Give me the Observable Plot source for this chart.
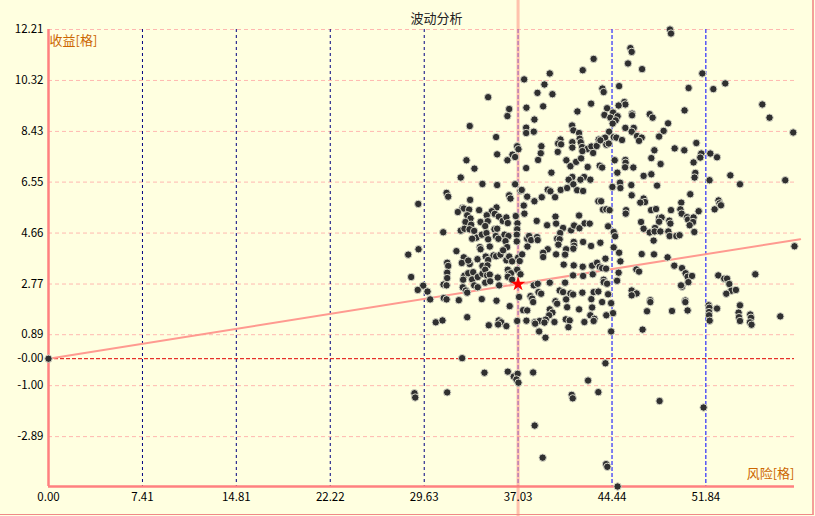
<!DOCTYPE html>
<html><head><meta charset="utf-8">
<script src="https://cdn.jsdelivr.net/npm/d3@7"></script>
<script src="https://cdn.jsdelivr.net/npm/@observablehq/plot@0.6"></script>
<style>
html,body{margin:0;padding:0;background:#ffffe0;}
#wrap{position:relative;width:815px;height:516px;overflow:hidden;}
#border{position:absolute;left:0;top:0;width:812px;height:514px;border-right:2px solid #f4a09a;border-bottom:1px solid #f08888;pointer-events:none;}
</style></head><body><div id="wrap"><div id="border"></div></div>
<script>
const title = "波动分析";
const yLabelText = "收益[格]";
const xLabelText = "风险[格]";
const xTicks = [0, 7.41, 14.81, 22.22, 29.63, 37.03, 44.44, 51.84];
const xTickLabels = ["0.00","7.41","14.81","22.22","29.63","37.03","44.44","51.84"];
const yTicks = [12.21, 10.32, 8.43, 6.55, 4.66, 2.77, 0.89, 0, -1.00, -2.89];
const yTickLabels = ["12.21","10.32","8.43","6.55","4.66","2.77","0.89","-0.00","-1.00","-2.89"];
const xDomain = [0, 58.83];
const yDomain = [-4.74, 12.21];
const benchmark = {risk: 37.03, ret: 2.77};
// [risk, return]
const samples = [
[0,0],
[42.99,11.12],[42.13,10.70],[39.53,10.58],[37.51,10.36],[39.11,10.17],[38.56,9.86],[39.74,9.81],[43.68,10.02],[43.78,9.89],[34.67,9.70],
[42.79,9.46],[37.69,9.31],[39.01,9.36],[36.33,9.26],[36.19,9.00],[38.32,8.87],[41.71,9.17],[33.22,8.63],[37.67,8.57],[37.67,8.37],
[38.27,8.42],[41.29,8.65],[41.39,8.47],[41.84,8.37],[35.30,8.22],[40.37,8.13],[40.19,7.98],[40.42,7.95],[41.31,8.03],[41.89,8.16],
[41.97,8.03],[43.39,8.13],[43.84,8.16],[42.08,7.85],[42.50,7.78],[42.81,7.87],[43.23,7.89],[41.31,7.83],[36.96,7.88],[37.06,7.77],
[38.87,7.88],[38.82,7.62],[35.38,7.58],[36.59,7.57],[36.80,7.48],[40.16,7.67],[42.10,7.70],[42.95,7.63],[32.96,7.36],[33.59,7.05],
[36.19,7.36],[37.67,7.07],[38.61,7.37],[40.84,7.36],[41.16,7.14],[41.61,7.30],[42.00,7.43],[42.52,7.11],[43.47,7.16],[43.66,7.09],
[39.66,6.90],[32.51,6.72],[41.31,6.74],[41.02,6.64],[42.24,6.74],[41.95,6.64],[42.73,6.64],
[49.01,12.21],[49.09,12.06],[45.89,11.52],[45.99,11.38],[45.70,10.95],[46.81,10.74],[51.56,10.58],[53.37,10.21],[50.48,10.04],[52.43,10.00],
[45.00,10.11],[56.29,9.43],[56.86,8.94],[58.73,8.39],[50.16,9.21],[45.41,9.52],[45.49,9.43],[44.96,9.39],[44.05,9.29],[44.52,9.13],
[43.84,9.04],[44.31,8.94],[44.88,8.99],[44.73,8.84],[44.49,8.72],[46.02,9.09],[46.02,9.03],[47.41,9.07],[47.64,8.94],[48.86,8.73],
[45.49,8.56],[46.15,8.56],[45.99,8.42],[48.51,8.45],[48.15,8.24],[44.21,8.42],[43.89,8.20],[43.52,8.10],[44.57,8.22],[44.78,8.20],
[46.41,8.26],[46.78,8.20],[46.57,8.08],[45.23,8.11],[43.99,7.94],[44.18,7.98],[51.09,8.00],[49.38,7.80],[50.14,7.73],[47.78,7.73],
[52.19,7.61],[52.72,7.47],[51.48,7.61],[51.40,7.46],[50.87,7.28],[47.54,7.44],[48.27,7.22],[44.65,7.36],[45.49,7.37],[45.51,7.27],
[45.47,7.10],[46.12,7.09],[44.86,6.90],[51.01,6.89],[50.95,6.72],[53.77,6.80],[47.54,6.84],[46.93,6.78],[58.10,6.62],[52.13,6.62],
[34.22,6.48],[35.38,6.44],[36.80,6.47],[37.22,6.23],[37.32,6.26],[37.75,6.01],[38.32,5.84],[38.90,5.99],[39.37,6.27],[39.58,6.21],
[39.95,5.99],[40.39,6.26],[40.90,6.33],[41.39,6.47],[41.69,6.25],[42.16,6.22],[43.36,5.84],[43.58,5.84],[31.39,6.15],[31.52,6.01],
[33.25,5.89],[29.16,5.74],[36.33,6.06],[36.43,5.94],[35.33,5.61],[34.96,5.47],[35.19,5.37],[35.51,5.27],[32.65,5.59],[32.75,5.57],
[33.17,5.53],[32.28,5.44],[33.96,5.51],[33.02,5.32],[33.28,5.20],[32.88,5.07],[33.33,4.97],[35.82,5.11],[36.11,5.24],[36.22,5.03],
[34.56,5.32],[34.07,5.07],[34.64,5.10],[34.44,4.92],[36.85,5.29],[36.98,5.02],[37.48,5.68],[37.53,5.38],[38.50,5.11],[39.32,4.95],
[39.98,5.27],[40.03,5.01],[40.58,4.85],[40.35,4.66],[41.21,4.76],[41.45,4.94],[41.84,5.31],[41.87,4.84],[42.28,5.02],[42.68,5.01],
[43.73,5.53],[31.13,4.69],[32.51,4.75],[32.80,4.82],[33.20,4.80],[33.57,4.74],[33.75,4.49],[33.41,4.45],[34.17,4.60],[34.54,4.66],
[34.67,4.43],[35.17,4.80],[35.38,4.82],[35.27,4.55],[35.48,4.45],[35.96,4.60],[36.27,4.55],[36.04,4.36],[36.17,4.14],[36.96,4.80],
[36.93,4.60],[36.93,4.35],[37.75,4.45],[37.90,4.55],[38.06,4.40],[37.77,4.16],[38.53,4.51],[38.58,4.40],[39.37,4.06],[40.11,4.45],
[40.31,4.43],[40.21,4.23],[40.82,4.06],[41.42,4.33],[41.45,4.19],[41.39,4.08],[42.16,4.33],[42.79,4.18],[28.37,3.86],[29.18,4.06],
[32.17,3.99],[34.01,4.14],[34.07,4.06],[34.80,4.16],[35.09,3.83],[35.30,3.80],[32.75,3.76],[32.59,3.55],[33.22,3.51],[33.10,3.64],
[33.83,3.69],[34.48,3.79],[34.67,3.66],[34.22,3.44],[34.62,3.46],[35.64,3.86],[35.85,4.02],[36.11,3.65],[36.33,3.79],[36.56,3.61],
[37.04,3.75],[37.16,3.62],[37.35,3.87],[39.01,3.93],[39.01,3.77],[40.03,3.87],[40.74,3.86],[40.63,3.49],[41.42,3.46],[42.13,3.41],
[42.87,3.45],[43.26,3.56],[43.47,3.41],[43.66,3.36],[31.44,3.56],[31.52,3.44],[28.60,3.03],[29.55,2.71],[29.12,2.55],[29.89,2.49],
[31.44,3.19],[31.44,2.99],[31.15,2.75],[31.39,2.72],[32.80,3.08],[33.10,3.17],[33.49,3.21],[32.70,2.93],[33.41,2.94],[33.85,3.03],
[34.22,3.15],[34.44,3.30],[34.59,3.09],[34.80,3.12],[33.57,2.72],[33.85,2.65],[34.44,2.82],[34.83,2.87],[35.43,3.01],[32.67,2.65],
[32.91,2.53],[36.22,3.30],[36.30,3.14],[36.48,3.17],[36.96,3.30],[37.22,3.13],[36.22,3.04],[35.54,2.72],[36.56,2.93],[38.27,2.72],
[38.58,2.78],[39.53,2.82],[40.74,2.82],[41.37,3.09],[42.16,3.07],[42.92,3.13],[43.78,2.93],[43.78,2.84],[30.10,2.20],[31.17,2.25],
[31.39,2.20],[32.36,2.17],[33.02,2.45],[34.17,2.21],[35.33,2.15],[36.37,1.95],[38.01,2.32],[38.14,2.23],[38.22,2.10],[38.64,2.47],
[37.11,2.29],[38.85,2.41],[40.31,2.53],[40.58,2.47],[41.16,2.42],[41.37,2.38],[42.10,2.45],[39.98,2.13],[40.11,2.04],[40.82,2.20],
[42.81,2.21],[42.99,2.47],[43.36,2.49],[43.66,2.10],[37.43,1.80],[37.75,1.79],[39.53,1.83],[39.74,1.71],[39.48,1.61],[40.90,1.91],
[41.84,1.83],[42.73,1.61],[42.87,1.90],[33.02,1.54],[30.54,1.35],[31.07,1.42],[35.51,1.42],[35.70,1.35],[36.96,1.40],[37.69,1.41],
[38.34,1.35],[38.74,1.40],[39.21,1.45],[39.11,1.34],[39.90,1.36],[40.79,1.46],[41.10,1.42],[42.26,1.36],[43.05,1.48],[42.99,1.40],
[44.47,6.37],[45.07,6.53],[45.10,6.33],[45.96,6.44],[47.99,6.42],[54.53,6.47],[45.99,6.06],[46.93,5.94],[47.04,5.81],[46.67,5.79],
[43.99,5.54],[44.25,5.51],[45.55,5.51],[45.52,5.38],[47.52,5.51],[47.91,5.55],[49.09,5.51],[49.90,5.79],[49.83,5.54],[49.93,5.38],
[50.61,6.10],[51.27,5.47],[52.84,5.87],[52.92,5.76],[53.03,5.69],[52.53,5.54],[48.15,5.22],[48.35,5.24],[48.15,5.08],[48.96,5.12],
[49.04,5.01],[46.73,5.07],[46.93,4.82],[47.83,4.85],[47.41,4.68],[47.80,4.72],[48.25,4.72],[48.88,4.72],[48.98,4.55],[49.51,4.55],
[49.77,4.58],[50.35,5.25],[50.43,5.16],[50.87,5.24],[50.83,5.07],[50.56,4.95],[50.93,4.70],[44.13,4.91],[44.57,4.70],[44.68,4.54],
[47.72,4.38],[43.52,4.30],[44.57,4.13],[45.00,3.93],[45.10,3.61],[43.92,3.71],[46.78,3.88],[47.75,3.87],[48.82,3.76],[49.35,3.45],
[49.96,3.36],[50.24,3.17],[50.40,3.04],[50.75,3.07],[50.46,2.84],[49.96,2.67],[49.88,2.72],[46.36,3.31],[46.57,3.23],[44.96,3.19],
[44.05,2.78],[44.84,2.89],[43.97,3.34],[58.83,4.17],[52.82,3.09],[53.29,2.97],[53.51,2.97],[53.69,2.77],[55.74,3.13],[53.84,2.52],
[54.21,2.55],[53.45,2.41],[45.99,2.53],[46.38,2.42],[45.99,2.35],[44.13,2.39],[44.37,2.06],[47.46,2.17],[47.46,2.10],[50.22,2.16],
[50.22,2.10],[47.20,1.76],[49.17,1.77],[50.40,1.79],[44.52,1.69],[43.99,1.61],[52.06,1.98],[52.11,1.89],[52.09,1.73],[52.09,1.61],
[52.14,1.41],[52.72,1.86],[54.53,1.98],[54.42,1.71],[54.45,1.54],[54.53,1.40],[55.34,1.64],[55.40,1.52],[55.32,1.35],[57.71,1.57],
[34.72,1.24],[35.46,1.27],[36.11,1.21],[38.38,1.30],[38.69,1.01],[39.19,0.78],[41.00,1.17],[44.37,1.01],[46.85,1.08],[55.44,1.26],
[32.62,0.02],[43.92,-0.17],[34.38,-0.52],[36.22,-0.48],[36.69,-0.66],[37.00,-0.56],[36.90,-0.77],[37.06,-0.89],[38.22,-0.51],[42.55,-0.81],
[28.86,-1.28],[28.92,-1.44],[31.44,-1.25],[41.26,-1.34],[41.34,-1.47],[43.36,-1.24],[48.19,-1.57],[51.66,-1.81],[38.34,-2.48],[38.97,-3.67],
[43.97,-3.91],[44.07,-4.01],[44.88,-4.74]
];

const slope = benchmark.ret / benchmark.risk;
const lineEndX = xTicks[1] * 8;
const regression = [[0, 0], [lineEndX, lineEndX * slope]];
const fontFam = "'Noto Sans CJK SC', 'Noto Sans', sans-serif";

const chart = Plot.plot({
  width: 815,
  height: 516,
  marginLeft: 48,
  marginRight: 21,
  marginTop: 29,
  marginBottom: 30,
  style: {background: "#ffffe0", fontFamily: fontFam, fontSize: "11px", color: "#000"},
  x: {domain: xDomain, label: null},
  y: {domain: yDomain, label: null},
  marks: [
    Plot.ruleY(yTicks.filter(d => d !== 0), {stroke: "#ffb8b0", strokeDasharray: "4,3"}),
    Plot.ruleY([0], {stroke: "#e00000", strokeDasharray: "4,2"}),
    Plot.ruleX(xTicks.filter(d => d > 0 && d < benchmark.risk - 0.5), {stroke: "#000080", strokeDasharray: "3,3"}),
    Plot.ruleX(xTicks.filter(d => d >= benchmark.risk - 0.5), {stroke: "#0000ff", strokeDasharray: "4,2"}),
    Plot.ruleX([benchmark.risk], {stroke: "#ff9a8a", strokeOpacity: 0.6, strokeWidth: 3, insetTop: -30, insetBottom: -31}),
    Plot.ruleX([0], {stroke: "#ff8080", strokeWidth: 2.5}),
    Plot.ruleY([yDomain[0]], {stroke: "#ff8080", strokeWidth: 2.5}),
    Plot.line(regression, {x: d => d[0], y: d => d[1], stroke: "#ff9a90", strokeWidth: 2}),
    Plot.dot(samples, {x: d => d[0], y: d => d[1], r: 3.7, fill: "#303030", stroke: "#d8d8c8", strokeWidth: 1}),
    Plot.dot([benchmark], {x: "risk", y: "ret", symbol: "star", r: 4.6, fill: "#ff0000"}),
    Plot.axisY(yTicks, {tickSize: 0, tickPadding: 5, tickFormat: d => yTickLabels[yTicks.indexOf(d)], fontSize: 11.5, fill: "#000", label: null}),
    Plot.axisX(xTicks, {tickSize: 0, tickPadding: 6, tickFormat: d => xTickLabels[xTicks.indexOf(d)], fontSize: 11.5, fill: "#000", label: null}),
    Plot.text([title], {frameAnchor: "top", dx: 15, dy: -16, fontSize: 13, fill: "#222"}),
    Plot.text([yLabelText], {frameAnchor: "top-left", textAnchor: "start", dx: 1, dy: 6.5, fontSize: 13, fill: "#cc6600"}),
    Plot.text([xLabelText], {frameAnchor: "bottom-right", textAnchor: "end", dy: -9, fontSize: 13, fill: "#cc6600"})
  ]
});
document.getElementById("wrap").insertBefore(chart, document.getElementById("border"));
</script>
</body></html>
